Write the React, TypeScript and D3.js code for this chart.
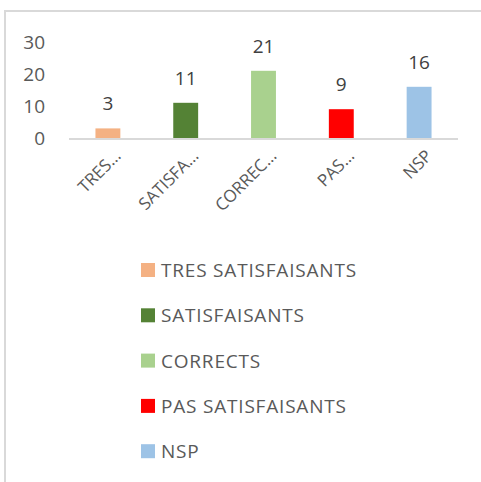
import { useEffect, useRef } from 'react'
import * as d3 from 'd3'

const categories = ['TRES SATISFAISANTS', 'SATISFAISANTS', 'CORRECTS', 'PAS SATISFAISANTS', 'NSP']
const shortLabels = ['TRES…', 'SATISFA…', 'CORREC…', 'PAS…', 'NSP']
const values = [3, 11, 21, 9, 16]
const colors = ['#f4b183', '#548235', '#a9d18e', '#ff0000', '#9dc3e6']
const yTicks = [0, 10, 20, 30]

const FONT = '"Open Sans", sans-serif'
const TEXT = '#595959'

export default function App() {
  const svgRef = useRef<SVGSVGElement>(null)

  useEffect(() => {
    const svg = d3.select(svgRef.current)
    svg.selectAll('*').remove()

    // cadre du graphique (coupé à droite et en bas)
    svg.append('rect')
      .attr('x', 5)
      .attr('y', 11)
      .attr('width', 700)
      .attr('height', 700)
      .attr('fill', 'none')
      .attr('stroke', '#d9d9d9')
      .attr('stroke-width', 2)

    const x = d3.scaleBand<string>()
      .domain(categories)
      .range([69, 458])
      .paddingInner(0.68)
      .paddingOuter(0.34)

    const y = d3.scaleLinear()
      .domain([0, 30])
      .range([138, 42])

    // ticks de l'axe Y
    svg.append('g')
      .selectAll('text')
      .data(yTicks)
      .enter()
      .append('text')
      .attr('x', 45)
      .attr('y', d => y(d))
      .attr('dy', '0.36em')
      .attr('text-anchor', 'end')
      .attr('font-family', FONT)
      .attr('font-size', '19px')
      .attr('fill', TEXT)
      .text(d => d)

    // barres
    svg.append('g')
      .selectAll('rect')
      .data(values)
      .enter()
      .append('rect')
      .attr('x', (d, i) => x(categories[i])!)
      .attr('y', d => y(d))
      .attr('width', x.bandwidth())
      .attr('height', d => y(0) - y(d))
      .attr('fill', (d, i) => colors[i])

    // axe X
    svg.append('line')
      .attr('x1', 69)
      .attr('x2', 458)
      .attr('y1', y(0) + 1)
      .attr('y2', y(0) + 1)
      .attr('stroke', '#d9d9d9')
      .attr('stroke-width', 2)

    // étiquettes de données
    svg.append('g')
      .selectAll('text')
      .data(values)
      .enter()
      .append('text')
      .attr('x', (d, i) => x(categories[i])! + x.bandwidth() / 2)
      .attr('y', d => y(d) - 18)
      .attr('text-anchor', 'middle')
      .attr('font-family', FONT)
      .attr('font-size', '19px')
      .attr('fill', '#404040')
      .text(d => d)

    // libellés des catégories
    svg.append('g')
      .selectAll('text')
      .data(shortLabels)
      .enter()
      .append('text')
      .attr('transform', (d, i) => {
        const cx = x(categories[i])! + x.bandwidth() / 2 + 14
        return `translate(${cx},157) rotate(-45)`
      })
      .attr('text-anchor', 'end')
      .attr('font-family', FONT)
      .attr('font-size', '17px')
      .attr('fill', TEXT)
      .text(d => d)

    // légende
    const legend = svg.append('g')
      .selectAll('g')
      .data(categories)
      .enter()
      .append('g')
      .attr('transform', (d, i) => `translate(141, ${263 + i * 45.3})`)

    legend.append('rect')
      .attr('width', 14)
      .attr('height', 14)
      .attr('fill', (d, i) => colors[i])

    legend.append('text')
      .attr('x', 20)
      .attr('y', 14)
      .attr('font-family', FONT)
      .attr('font-size', '19px')
      .attr('letter-spacing', '0.8px')
      .attr('fill', TEXT)
      .text(d => d)
  }, [])

  return (
    <svg
      ref={svgRef}
      width={481}
      height={482}
      style={{ position: 'absolute', left: 0, top: 0, background: '#fff' }}
    ></svg>
  )
}
